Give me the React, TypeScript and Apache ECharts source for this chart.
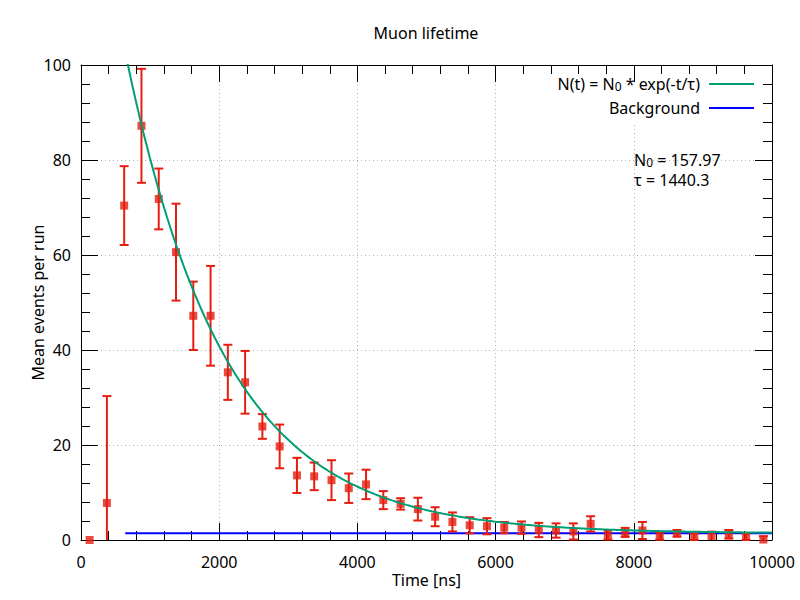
import React, { useEffect, useRef } from "react";
import * as echarts from "echarts";

// ---- data ----
const binCenters = [
  125, 375, 625, 875, 1125, 1375, 1625, 1875, 2125, 2375,
  2625, 2875, 3125, 3375, 3625, 3875, 4125, 4375, 4625, 4875,
  5125, 5375, 5625, 5875, 6125, 6375, 6625, 6875, 7125, 7375,
  7625, 7875, 8125, 8375, 8625, 8875, 9125, 9375, 9625, 9875,
];
const meanEvents = [
  0, 7.8, 70.4, 87.2, 71.8, 60.6, 47.2, 47.2, 35.3, 33.2,
  23.9, 19.7, 13.6, 13.4, 12.6, 10.9, 11.7, 8.4, 7.6, 6.5,
  4.9, 3.8, 3.1, 2.9, 2.6, 2.6, 2.1, 2.0, 1.8, 3.4,
  1.1, 1.6, 2.0, 0.85, 1.4, 0.7, 0.85, 1.2, 0.7, 0.1,
];
const errors = [
  0, 22.5, 8.3, 12.0, 6.4, 10.2, 7.2, 10.5, 5.8, 6.6,
  2.6, 4.6, 3.7, 2.9, 4.2, 3.1, 3.1, 1.9, 1.2, 2.4,
  2.0, 2.0, 1.7, 1.7, 1.2, 1.3, 1.5, 1.5, 1.7, 1.6,
  1.0, 0.95, 1.8, 0.8, 0.7, 0.7, 0.9, 0.9, 0.7, 0.7,
];
// fit parameters (as printed on the chart) and background level
const FIT_N0 = 157.97;
const FIT_TAU = 1440.3;
const BACKGROUND = 1.4;
const FIT_RANGE = [640, 10000];
const xTicks = [0, 2000, 4000, 6000, 8000, 10000];
const yTicks = [0, 20, 40, 60, 80, 100];

const RED = "#e51e10";
const GREEN = "#009e73";
const BLUE = "#0000ff";
const FONT = "Noto Sans";

export default function App() {
  const ref = useRef<HTMLDivElement>(null);
  useEffect(() => {
    document.body.style.margin = "0";
    const chart = echarts.init(ref.current!, null, { renderer: "svg" });

    // fit curve: N(t) = N0 * exp(-t/tau) + background
    const fitData: number[][] = [];
    const steps = 400;
    for (let i = 0; i <= steps; i++) {
      const t = FIT_RANGE[0] + ((FIT_RANGE[1] - FIT_RANGE[0]) * i) / steps;
      fitData.push([t, FIT_N0 * Math.exp(-t / FIT_TAU) + BACKGROUND]);
    }
    const points = binCenters.map((x, i) => [x, meanEvents[i], errors[i]]);

    const tickCommon = {
      axisTick: { show: true, inside: true, length: 17, lineStyle: { color: "#000", width: 1 } },
      minorTick: { show: true, splitNumber: 5, length: 9, lineStyle: { color: "#000", width: 1 } },
      axisLine: { show: true, onZero: false, lineStyle: { color: "#000", width: 1 } },
    };
    const xBase = { type: "value", min: xTicks[0], max: xTicks[xTicks.length - 1], interval: xTicks[1] - xTicks[0] };
    const yBase = { type: "value", min: yTicks[0], max: yTicks[yTicks.length - 1], interval: yTicks[1] - yTicks[0] };
    const grid = { type: [1, 3], color: "#b4b4b4", width: 1 };
    const plain = (v: number) => String(v);

    chart.setOption({
      animation: false,
      textStyle: { fontFamily: FONT },
      grid: { left: 81, right: 28, top: 65, bottom: 60, containLabel: false },
      xAxis: [
        {
          ...xBase, ...tickCommon, position: "bottom",
          axisLabel: { color: "#000", fontSize: 16, margin: 14, fontFamily: FONT, formatter: plain },
          splitLine: { show: true, lineStyle: grid },
          name: "Time [ns]", nameLocation: "middle", nameGap: 32, nameMoveOverlap: false,
          nameTextStyle: { color: "#000", fontSize: 16, fontFamily: FONT },
        },
        { ...xBase, ...tickCommon, position: "top", axisLabel: { show: false }, splitLine: { show: false } },
      ],
      yAxis: [
        {
          ...yBase, ...tickCommon, position: "left",
          axisLabel: { color: "#000", fontSize: 16, margin: 10, fontFamily: FONT, formatter: plain },
          splitLine: { show: true, lineStyle: grid },
          name: "Mean events per run", nameLocation: "middle", nameGap: 35, nameMoveOverlap: false,
          nameTextStyle: { color: "#000", fontSize: 16, fontFamily: FONT },
        },
        { ...yBase, ...tickCommon, position: "right", axisLabel: { show: false }, splitLine: { show: false } },
      ],
      series: [
        {
          name: "Background",
          type: "line",
          data: [[FIT_RANGE[0], BACKGROUND], [FIT_RANGE[1], BACKGROUND]],
          showSymbol: false,
          lineStyle: { color: BLUE, width: 2 },
          z: 3,
        },
        {
          name: "errors",
          type: "custom",
          data: points,
          z: 4,
          renderItem: (params: any, api: any) => {
            const x = api.value(0);
            const y = api.value(1);
            const e = api.value(2);
            if (!e) return { type: "group", children: [] };
            const hi = y + e;
            const lo = y - e;
            const top = api.coord([x, Math.min(hi, 100)]);
            const bot = api.coord([x, Math.max(lo, 0)]);
            const hw = 4.5;
            const st = { stroke: RED, lineWidth: 2 };
            const children: any[] = [
              { type: "line", shape: { x1: top[0], y1: top[1], x2: bot[0], y2: bot[1] }, style: st },
            ];
            if (hi <= 100) children.push({ type: "line", shape: { x1: top[0] - hw, y1: top[1], x2: top[0] + hw, y2: top[1] }, style: st });
            if (lo >= 0) children.push({ type: "line", shape: { x1: bot[0] - hw, y1: bot[1], x2: bot[0] + hw, y2: bot[1] }, style: st });
            return { type: "group", children };
          },
        },
        {
          name: "data",
          type: "scatter",
          data: points.map((p) => [p[0], p[1]]),
          symbol: "rect",
          symbolSize: 8,
          itemStyle: { color: RED },
          clip: false,
          z: 5,
        },
        {
          name: "N(t) = N0 * exp(-t/τ)",
          type: "line",
          data: fitData,
          showSymbol: false,
          lineStyle: { color: GREEN, width: 2 },
          z: 6,
        },
      ],
      graphic: [
        { type: "rect", z: 1, shape: { x: 548, y: 82, width: 212, height: 40 }, style: { fill: "#fff" } },
        {
          type: "text", z: 10, x: 426, y: 33,
          style: { text: "Muon lifetime", fontFamily: FONT, fontSize: 16, fill: "#000", align: "center", verticalAlign: "middle" },
        },
        {
          type: "text", z: 10, x: 700, y: 84,
          style: {
            text: "{a|N(t) = N}{s|0}{a| * exp(-t/τ)}",
            align: "right", verticalAlign: "middle", fill: "#000",
            rich: {
              a: { fontFamily: FONT, fontSize: 16, lineHeight: 16, fill: "#000" },
              s: { fontFamily: FONT, fontSize: 12, lineHeight: 8, verticalAlign: "bottom", fill: "#000" },
            },
          },
        },
        { type: "line", z: 10, shape: { x1: 709, y1: 84, x2: 754, y2: 84 }, style: { stroke: GREEN, lineWidth: 2 } },
        {
          type: "text", z: 10, x: 700, y: 108,
          style: { text: "Background", fontFamily: FONT, fontSize: 16, fill: "#000", align: "right", verticalAlign: "middle" },
        },
        { type: "line", z: 10, shape: { x1: 709, y1: 108, x2: 754, y2: 108 }, style: { stroke: BLUE, lineWidth: 2 } },
        {
          type: "text", z: 10, x: 634, y: 160,
          style: {
            text: "{a|N}{s|0}{a| = " + FIT_N0.toFixed(2) + "}",
            align: "left", verticalAlign: "middle", fill: "#000",
            rich: {
              a: { fontFamily: FONT, fontSize: 16, lineHeight: 16, fill: "#000" },
              s: { fontFamily: FONT, fontSize: 12, lineHeight: 8, verticalAlign: "bottom", fill: "#000" },
            },
          },
        },
        {
          type: "text", z: 10, x: 634, y: 180,
          style: { text: "τ = " + FIT_TAU.toFixed(1), fontFamily: FONT, fontSize: 16, lineHeight: 16, fill: "#000", align: "left", verticalAlign: "middle" },
        },
      ],
    });
    return () => chart.dispose();
  }, []);
  return <div ref={ref} style={{ width: 800, height: 600 }} />;
}
